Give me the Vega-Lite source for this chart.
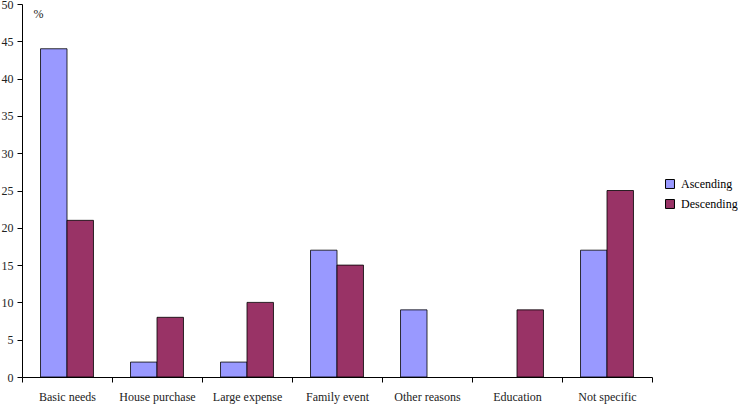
{
  "$schema": "https://vega.github.io/schema/vega-lite/v6.json",
  "width": 630,
  "height": 373,
  "autosize": {"type": "none"},
  "padding": {"left": 22, "top": 4, "right": 86, "bottom": 28},
  "background": "white",
  "config": {
    "view": {"stroke": null},
    "font": "Liberation Serif",
    "axis": {"labelFont": "Liberation Serif", "titleFont": "Liberation Serif", "labelColor": "#222", "domainColor": "#000", "tickColor": "#000", "grid": false},
    "legend": {"labelFont": "Liberation Serif"}
  },
  "data": {
    "values": [
      {"category": "Basic needs", "series": "Ascending", "value": 44},
      {"category": "Basic needs", "series": "Descending", "value": 21},
      {"category": "House purchase", "series": "Ascending", "value": 2},
      {"category": "House purchase", "series": "Descending", "value": 8},
      {"category": "Large expense", "series": "Ascending", "value": 2},
      {"category": "Large expense", "series": "Descending", "value": 10},
      {"category": "Family event", "series": "Ascending", "value": 17},
      {"category": "Family event", "series": "Descending", "value": 15},
      {"category": "Other reasons", "series": "Ascending", "value": 9},
      {"category": "Education", "series": "Descending", "value": 9},
      {"category": "Not specific", "series": "Ascending", "value": 17},
      {"category": "Not specific", "series": "Descending", "value": 25}
    ]
  },
  "mark": {"type": "bar", "stroke": "#000", "strokeWidth": 0.8},
  "encoding": {
    "x": {
      "field": "category",
      "type": "nominal",
      "sort": null,
      "scale": {"paddingInner": 0, "paddingOuter": 0},
      "axis": {"title": null, "labelAngle": 0, "tickBand": "extent", "tickSize": 5, "labelPadding": 9, "labelFontSize": 12, "domainWidth": 1}
    },
    "xOffset": {
      "field": "series",
      "type": "nominal",
      "scale": {"domain": ["Ascending", "Descending"], "paddingInner": 0, "paddingOuter": 0.7}
    },
    "y": {
      "field": "value",
      "type": "quantitative",
      "scale": {"domain": [0, 50], "nice": false},
      "axis": {"values": [0, 5, 10, 15, 20, 25, 30, 35, 40, 45, 50], "tickSize": 5, "labelPadding": 4, "labelFontSize": 12, "title": "%", "titleAngle": 0, "titleX": 16, "titleY": 9, "titleAlign": "center", "titleBaseline": "middle", "titleFontSize": 12, "titleFontWeight": "normal", "titleColor": "#222"}
    },
    "fill": {
      "field": "series",
      "type": "nominal",
      "scale": {"domain": ["Ascending", "Descending"], "range": ["#9999FF", "#993366"]},
      "legend": {"title": null, "orient": "none", "legendX": 642, "legendY": 174, "symbolType": "square", "symbolSize": 80, "symbolStrokeColor": "#000", "symbolStrokeWidth": 1, "labelFontSize": 12, "rowPadding": 6, "labelOffset": 5}
    }
  }
}
